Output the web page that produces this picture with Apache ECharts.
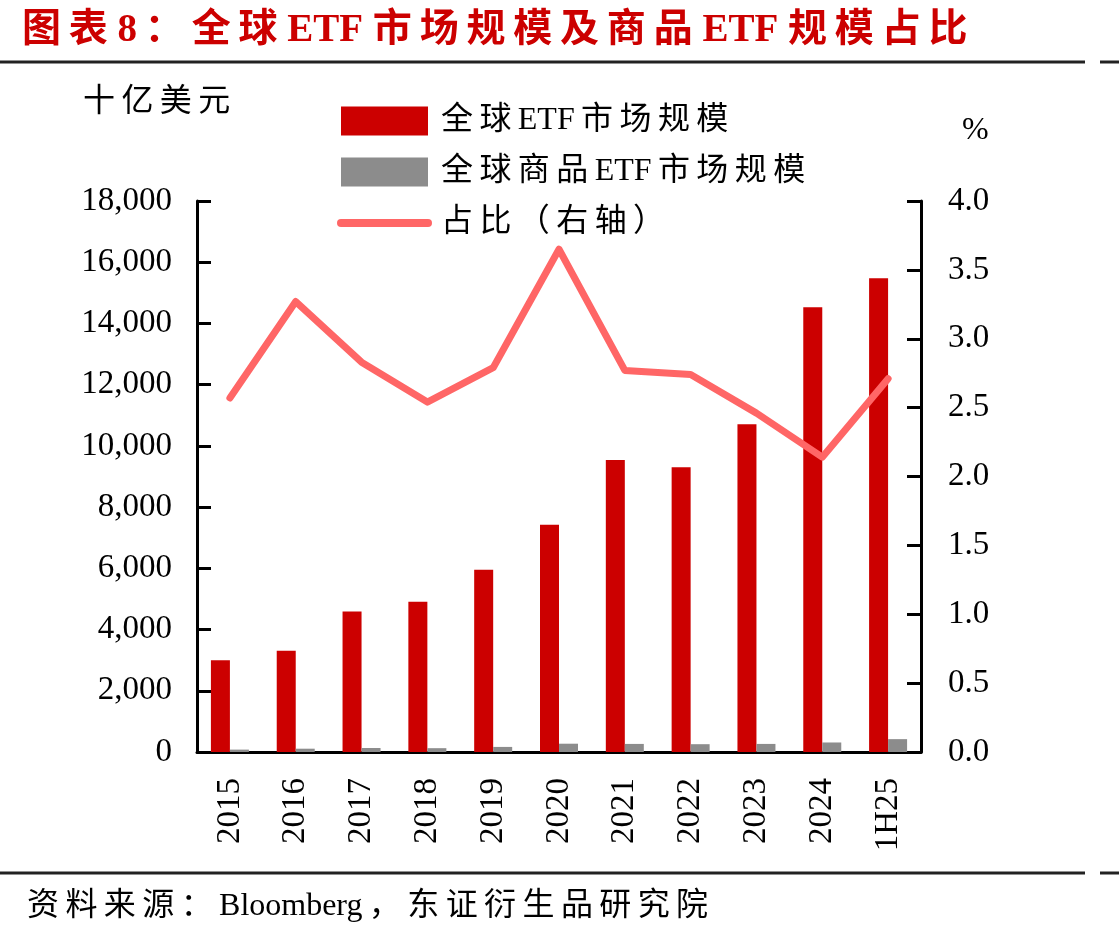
<!DOCTYPE html>
<html>
<head>
<meta charset="utf-8">
<script src="https://cdn.jsdelivr.net/npm/echarts@6/dist/echarts.min.js"></script>
<style>
html, body { margin: 0; padding: 0; background: #fff; }
#chart { width: 1119px; height: 938px; }
</style>
</head>
<body>
<div id="chart"></div>
<script>
// 数据（十亿美元 / %）
const categories = ['2015', '2016', '2017', '2018', '2019', '2020', '2021', '2022', '2023', '2024', '1H25'];
const etfSize = [3000, 3310, 4590, 4910, 5950, 7420, 9540, 9300, 10710, 14530, 15480];
const commoditySize = [78, 108, 130, 125, 166, 271, 264, 255, 264, 311, 420];
const commodityShare = [2.57, 3.27, 2.83, 2.54, 2.79, 3.65, 2.77, 2.74, 2.46, 2.14, 2.71];
const seriesNames = ['全球ETF市场规模', '全球商品ETF市场规模', '占比（右轴）'];

const FONT = '"Liberation Serif", "Noto Sans CJK SC", serif';
const titleText = '图表 8：全球 ETF 市场规模及商品 ETF 规模占比';
const sourceText = '资料来源：Bloomberg，东证衍生品研究院';

// 中文字符之间加细空格，模拟原图的字距
const isCJK = c => c && c.charCodeAt(0) > 0x2e80;
function spaced(s) {
  let out = '';
  for (let i = 0; i < s.length; i++) {
    out += s[i];
    const n = s[i + 1];
    if (n && n !== ' ' && s[i] !== ' ' && (isCJK(s[i]) || isCJK(n))) out += '\u2009';
  }
  return out;
}

const chart = echarts.init(document.getElementById('chart'));

const option = {
  backgroundColor: '#fff',
  animation: false,
  textStyle: { fontFamily: FONT },
  grid: { left: 197, right: 198, top: 201, bottom: 186, outerBoundsMode: 'none' },
  legend: {
    orient: 'vertical',
    left: 332,
    top: 100,
    itemWidth: 87,
    itemHeight: 29,
    itemGap: 19,
    data: [
      { name: seriesNames[0], icon: 'rect' },
      { name: seriesNames[1], icon: 'rect' },
      {
        name: seriesNames[2],
        itemStyle: { opacity: 0 },
        lineStyle: { width: 8, color: '#ff6666', cap: 'round' }
      }
    ],
    formatter: n => spaced(n),
    textStyle: { fontSize: 32, fontFamily: FONT, color: '#000', padding: [0, 0, 0, 8] }
  },
  xAxis: {
    type: 'category',
    data: categories,
    axisLine: { lineStyle: { color: '#000', width: 3 } },
    axisTick: { inside: true, length: 14, lineStyle: { color: '#000', width: 3 } },
    axisLabel: { rotate: 90, margin: 26, interval: 0, fontSize: 33, fontFamily: FONT, color: '#000' }
  },
  yAxis: [{
    type: 'value',
    min: 0,
    max: 18000,
    interval: 2000,
    splitLine: { show: false },
    axisLine: { show: true, lineStyle: { color: '#000', width: 3 } },
    axisTick: { show: true, inside: true, length: 14, lineStyle: { color: '#000', width: 3 } },
    axisLabel: {
      margin: 25, fontSize: 33, fontFamily: FONT, color: '#000',
      formatter: v => v.toLocaleString('en-US')
    }
  }, {
    type: 'value',
    position: 'right',
    min: 0,
    max: 4,
    interval: 0.5,
    splitLine: { show: false },
    axisLine: { show: true, lineStyle: { color: '#000', width: 3 } },
    axisTick: { show: true, inside: true, length: 14, lineStyle: { color: '#000', width: 3 } },
    axisLabel: {
      margin: 27, fontSize: 33, fontFamily: FONT, color: '#000',
      formatter: v => v.toFixed(1)
    }
  }],
  series: [{
    name: seriesNames[0],
    type: 'bar',
    data: etfSize,
    barWidth: 19,
    barGap: '0%',
    itemStyle: { color: '#cc0000' }
  }, {
    name: seriesNames[1],
    type: 'bar',
    data: commoditySize,
    barWidth: 19,
    itemStyle: { color: '#8c8c8c' }
  }, {
    name: seriesNames[2],
    type: 'line',
    yAxisIndex: 1,
    data: commodityShare,
    symbol: 'none',
    z: 5,
    lineStyle: { color: '#ff6666', width: 7, cap: 'round', join: 'round' },
    itemStyle: { color: '#ff6666' }
  }],
  graphic: [
    {
      type: 'text', x: 22, y: 31,
      style: {
        text: spaced(titleText), fontSize: 39, fontWeight: 'bold', fontFamily: FONT,
        fill: '#cc0000', verticalAlign: 'middle'
      }
    },
    { type: 'line', shape: { x1: 0, y1: 62, x2: 1085, y2: 62 }, style: { stroke: '#222', lineWidth: 3 } },
    { type: 'line', shape: { x1: 1100, y1: 62, x2: 1119, y2: 62 }, style: { stroke: '#222', lineWidth: 3 } },
    { type: 'line', shape: { x1: 0, y1: 873, x2: 1085, y2: 873 }, style: { stroke: '#222', lineWidth: 3 } },
    { type: 'line', shape: { x1: 1100, y1: 873, x2: 1119, y2: 873 }, style: { stroke: '#222', lineWidth: 3 } },
    {
      type: 'text', x: 83, y: 103,
      style: { text: spaced('十亿美元'), fontSize: 32, fontFamily: FONT, fill: '#000', verticalAlign: 'middle' }
    },
    {
      type: 'text', x: 962, y: 131,
      style: { text: '%', fontSize: 32, fontFamily: FONT, fill: '#000', verticalAlign: 'middle' }
    },
    {
      type: 'text', x: 27, y: 907,
      style: { text: spaced(sourceText), fontSize: 32, fontFamily: FONT, fill: '#000', verticalAlign: 'middle' }
    }
  ]
};

chart.setOption(option);
</script>
</body>
</html>
